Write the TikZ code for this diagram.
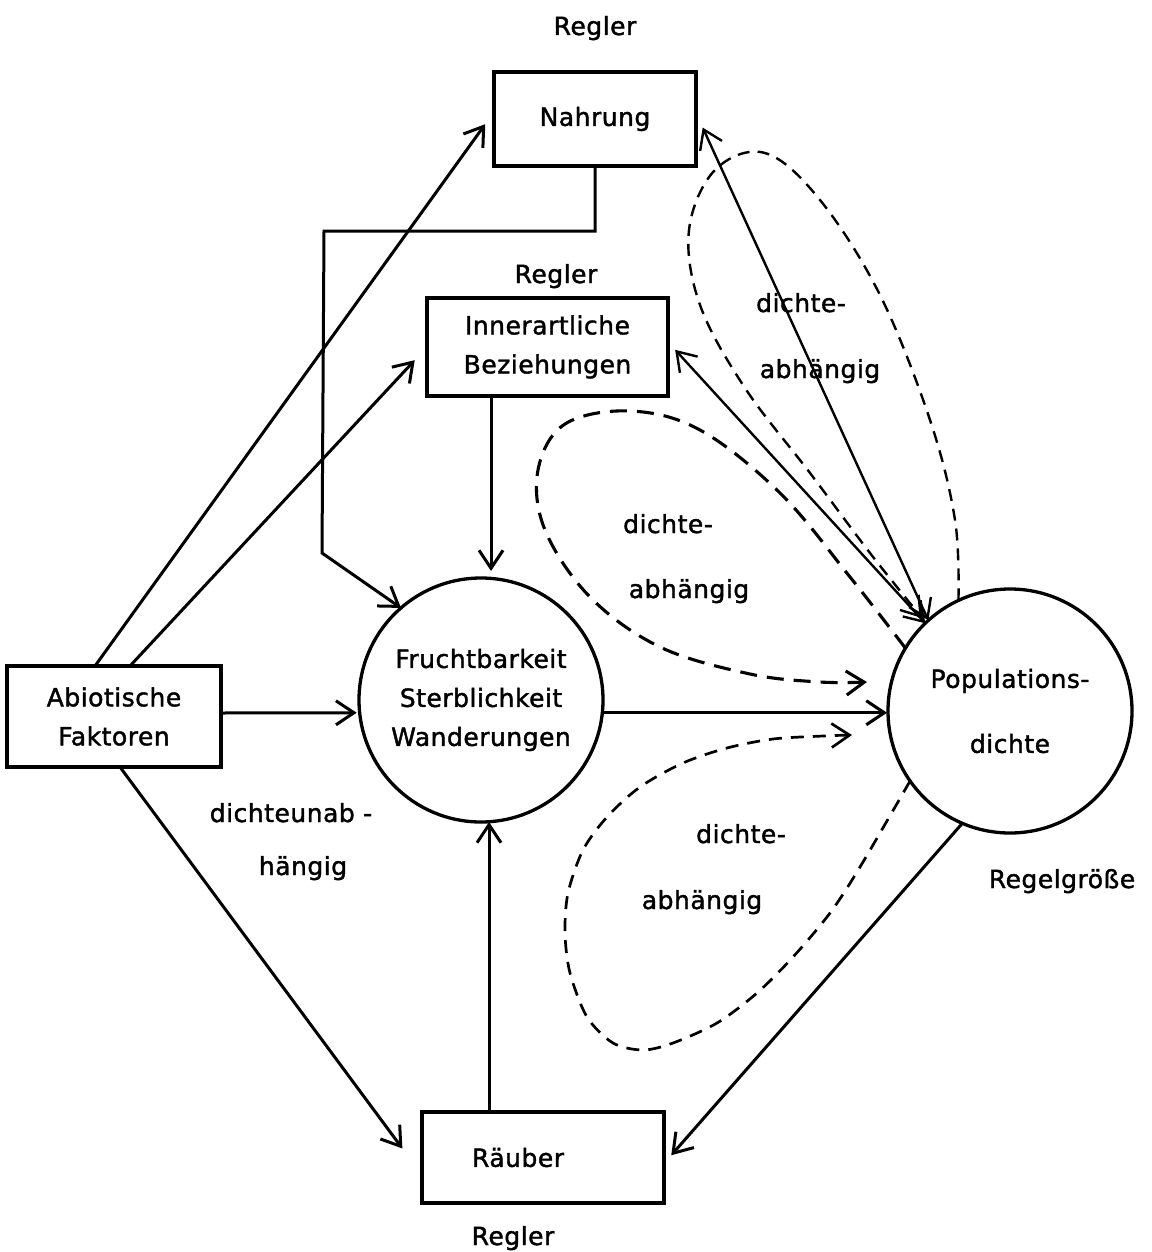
\documentclass[tikz,border=0pt]{standalone}
\usepackage{fontspec}
\setmainfont{DejaVu Sans}[FakeBold=1.5,LetterSpace=2]
\usetikzlibrary{arrows.meta,calc}
\begin{document}
\begin{tikzpicture}[x=1pt,y=-1pt,
  every node/.style={font=\fontsize{25}{39}\selectfont,outer sep=0pt},
  box/.style={draw,line width=3.3pt,rectangle,inner sep=0pt,align=center},
  circ/.style={draw,line width=3.3pt,circle,inner sep=0pt,minimum size=244pt,align=center},
  lbl/.style={anchor=base,inner sep=0pt},
  barb/.tip={Straight Barb[length=18pt,width=24pt]},
  conn/.style={line width=3pt,-barb},
  both/.style={line width=2.4pt,barb-barb},
  loopline/.style={line width=2.7pt,-barb,dash pattern=on 13pt off 9pt},
]
% canvas
\fill[white] (0,0) rectangle (1151,1252);
\useasboundingbox (0,0) rectangle (1151,1252);

% boxes and circles
\node[box,minimum width=202pt,minimum height=94pt] (nah) at (595,119) {Nahrung};
\node[box,minimum width=241pt,minimum height=98pt] (inn) at (547.5,347) {Innerartliche\\Beziehungen};
\node[box,minimum width=214pt,minimum height=101pt] (ab) at (114,716.5) {Abiotische\\Faktoren};
\node[box,minimum width=242pt,minimum height=91pt,text width=142pt,align=left] (rb) at (543,1157.5) {Räuber};
\node[circ] (fr) at (481,700) {Fruchtbarkeit\\Sterblichkeit\\Wanderungen};
\node[circ] (pop) at (1010,711) {Populations-\\[26pt]dichte};

% labels
\node[lbl] (rg1) at (595,35) {Regler};
\node[lbl] (rg2) at (556,283) {Regler};
\node[lbl] (rg3) at (513,1245) {Regler};
\node[lbl] (rgg) at (1062,888) {Regelgröße};
\node[lbl] (du1) at (291,822) {dichteunab -};
\node[lbl] (du2) at (303,875) {hängig};
\node[lbl] (t1) at (801,312) {dichte-};
\node[lbl] (t2) at (820,378) {abhängig};
\node[lbl] (m1) at (668,533) {dichte-};
\node[lbl] (m2) at (689,598) {abhängig};
\node[lbl] (l1) at (741,843) {dichte-};
\node[lbl] (l2) at (702,909) {abhängig};

% Abiotische Faktoren -> regulators and rates
\draw[conn,shorten >=15pt] ([xshift=88pt]ab.north west) -- ([yshift=7pt]nah.west);
\draw[conn,shorten >=18pt] ([xshift=123pt]ab.north west) -- (inn.west);
\draw[conn,shorten >=3pt] ([yshift=3.5pt]ab.east) -- (fr.186);
\draw[conn,shorten >=33pt] ([xshift=113pt]ab.south west) -- ([yshift=-17.5pt]rb.west);

% Nahrung -> Fruchtbarkeit (elbow path)
\coordinate (kA) at (324,231);
\coordinate (kB) at (322,553);
\draw[conn] (nah.south) |- (kA) -- (kB) -- (fr.131);

% Innerartliche Beziehungen -> Fruchtbarkeit
\coordinate (iv) at ([xshift=-56.5pt]inn.south);
\draw[conn,shorten >=7pt] (iv) -- (iv |- fr.north);

% Räuber -> Fruchtbarkeit
\coordinate (rv) at ([xshift=-54pt]rb.north);
\draw[conn] (rv) -- (rv |- fr.south);

% Fruchtbarkeit -> Populationsdichte
\draw[conn,shorten >=1pt] (fr.-6) -- (fr.-6 -| pop.west);

% Populationsdichte -> Räuber
\draw[conn,shorten >=11pt] (pop.-113) -- ([yshift=-6pt]rb.east);

% feedback between density and regulators
\draw[both,shorten >=16pt] (pop.132) -- ([yshift=6pt]nah.east);
\draw[both,shorten >=10.6pt] (pop.134) -- ([yshift=5pt]inn.east);

% density-dependent loops
\coordinate (ta) at (pop.115.5);
\draw[loopline,line width=2.4pt,dash pattern=on 12pt off 8pt] plot[smooth,tension=0.6] coordinates {
  (ta) (955,520) (930,420) (880,295) (820,200) (765,153) (715,170)
  (689,230) (700,305) (745,388) (810,473) (870,553) (922,618)};
\coordinate (ma) at (pop.149);
\draw[loopline,line width=3.1pt,dash pattern=on 17pt off 10pt] plot[smooth,tension=0.6] coordinates {
  (ma) (850,577) (780,493) (700,430) (630,411) (565,424) (538,470)
  (545,530) (590,597) (660,647) (750,674) (820,682) (867,682)};
\coordinate (la) at (pop.215);
\draw[loopline] plot[smooth,tension=0.5] coordinates {
  (la) (860,867) (830,913) (793,957) (757,993) (717,1023) (673,1043)
  (643,1050) (613,1043) (587,1017) (570,973) (565,933) (568,893)
  (583,850) (607,817) (640,787) (683,763) (727,748) (773,739) (823,736) (852,735)};
\end{tikzpicture}
\end{document}
